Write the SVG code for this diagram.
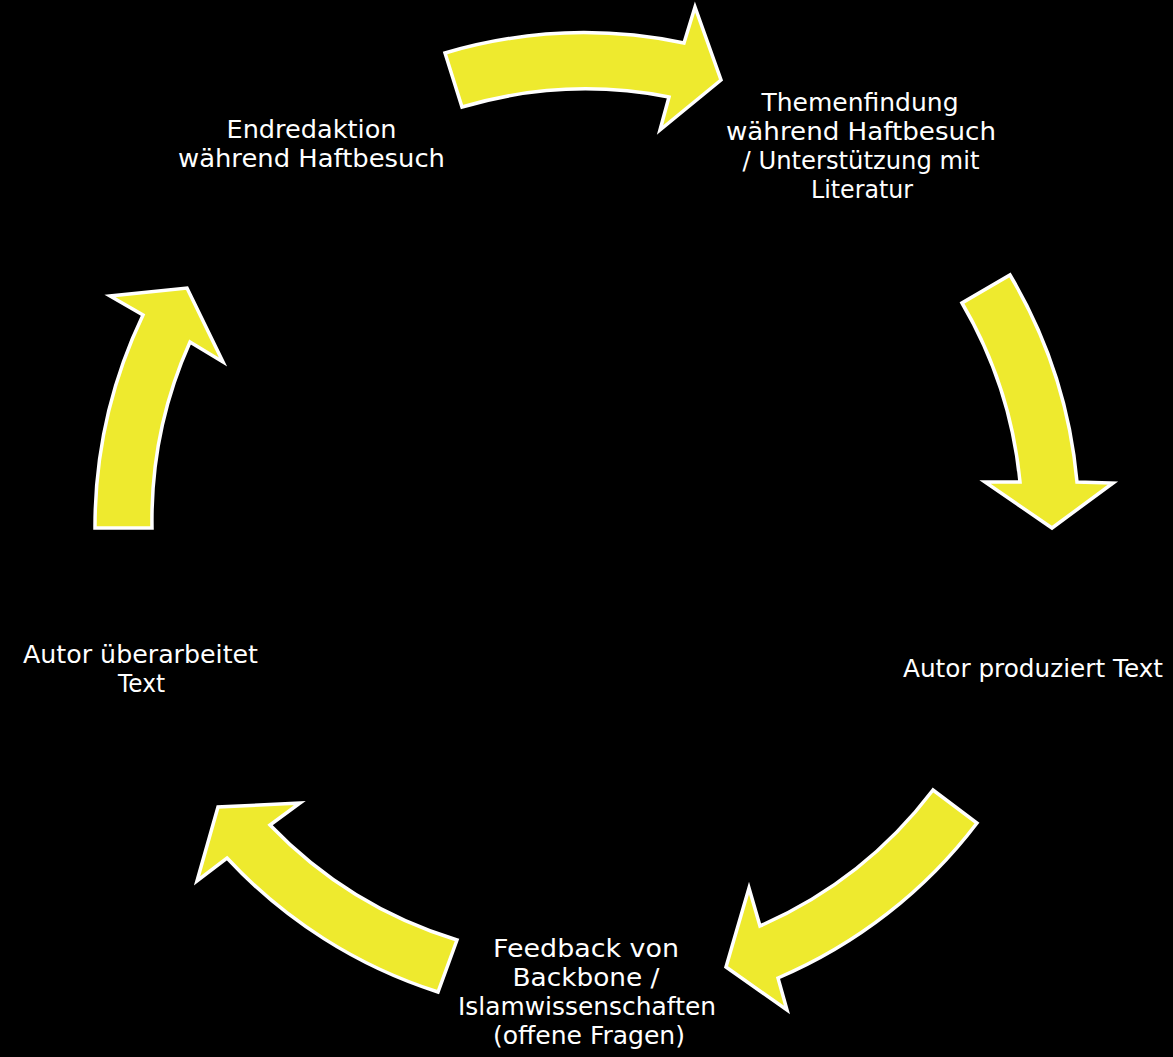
<svg xmlns="http://www.w3.org/2000/svg" width="1173" height="1057" viewBox="0 0 1173 1057">
<style>
.arrow{fill:#EEEA2E;stroke:#FFFFFF;stroke-width:3.5;stroke-linejoin:miter}
.lbl{font-family:"DejaVu Sans","Liberation Sans",sans-serif;font-size:24px;fill:#FFFFFF;text-anchor:middle}
</style>
<rect x="0" y="0" width="1173" height="1057" fill="#000000"/>
<g id="connectors">
<path id="arrow1" class="arrow" d="M445,53 A492,492 0 0 1 684,43 L695,7 L721,80 L660,130 L669,97 A437,437 0 0 0 462,107 Z"/>
<path id="arrow2" class="arrow" d="M1010,275 A492,492 0 0 1 1077,482 L1113,483 L1052,528 L985,482 L1020,482 A437,437 0 0 0 962,303 Z"/>
<path id="arrow3" class="arrow" d="M977,823 A492,492 0 0 1 778,978 L787,1010 L726,967 L749,888 L760,926 A437,437 0 0 0 933,790 Z"/>
<path id="arrow4" class="arrow" d="M438,992 A492,492 0 0 1 227,858 L197,881 L218,807 L300,803 L270,825 A437,437 0 0 0 457,940 Z"/>
<path id="arrow5" class="arrow" d="M95,528 A492,492 0 0 1 143,315 L110,296 L187,288 L223,362 L190,342 A437,437 0 0 0 152,528 Z"/>
</g>
<g id="node1">
<text class="lbl" x="860" y="111" textLength="197" lengthAdjust="spacingAndGlyphs">Themenfindung</text>
<text class="lbl" x="861" y="140" textLength="270" lengthAdjust="spacingAndGlyphs">während Haftbesuch</text>
<text class="lbl" x="861" y="169" textLength="237" lengthAdjust="spacingAndGlyphs">/ Unterstützung mit</text>
<text class="lbl" x="862" y="198" textLength="102" lengthAdjust="spacingAndGlyphs">Literatur</text>
</g>
<g id="node2">
<text class="lbl" x="1033" y="677" textLength="260" lengthAdjust="spacingAndGlyphs">Autor produziert Text</text>
</g>
<g id="node3">
<text class="lbl" x="586" y="957" textLength="186" lengthAdjust="spacingAndGlyphs">Feedback von</text>
<text class="lbl" x="586" y="986" textLength="147" lengthAdjust="spacingAndGlyphs">Backbone /</text>
<text class="lbl" x="587" y="1015" textLength="258" lengthAdjust="spacingAndGlyphs">Islamwissenschaften</text>
<text class="lbl" x="589" y="1044" textLength="192" lengthAdjust="spacingAndGlyphs">(offene Fragen)</text>
</g>
<g id="node4">
<text class="lbl" x="140.5" y="663" textLength="235" lengthAdjust="spacingAndGlyphs">Autor überarbeitet</text>
<text class="lbl" x="141.5" y="692" textLength="47" lengthAdjust="spacingAndGlyphs">Text</text>
</g>
<g id="node5">
<text class="lbl" x="311.5" y="138" textLength="170" lengthAdjust="spacingAndGlyphs">Endredaktion</text>
<text class="lbl" x="311.5" y="167" textLength="267" lengthAdjust="spacingAndGlyphs">während Haftbesuch</text>
</g>
</svg>
